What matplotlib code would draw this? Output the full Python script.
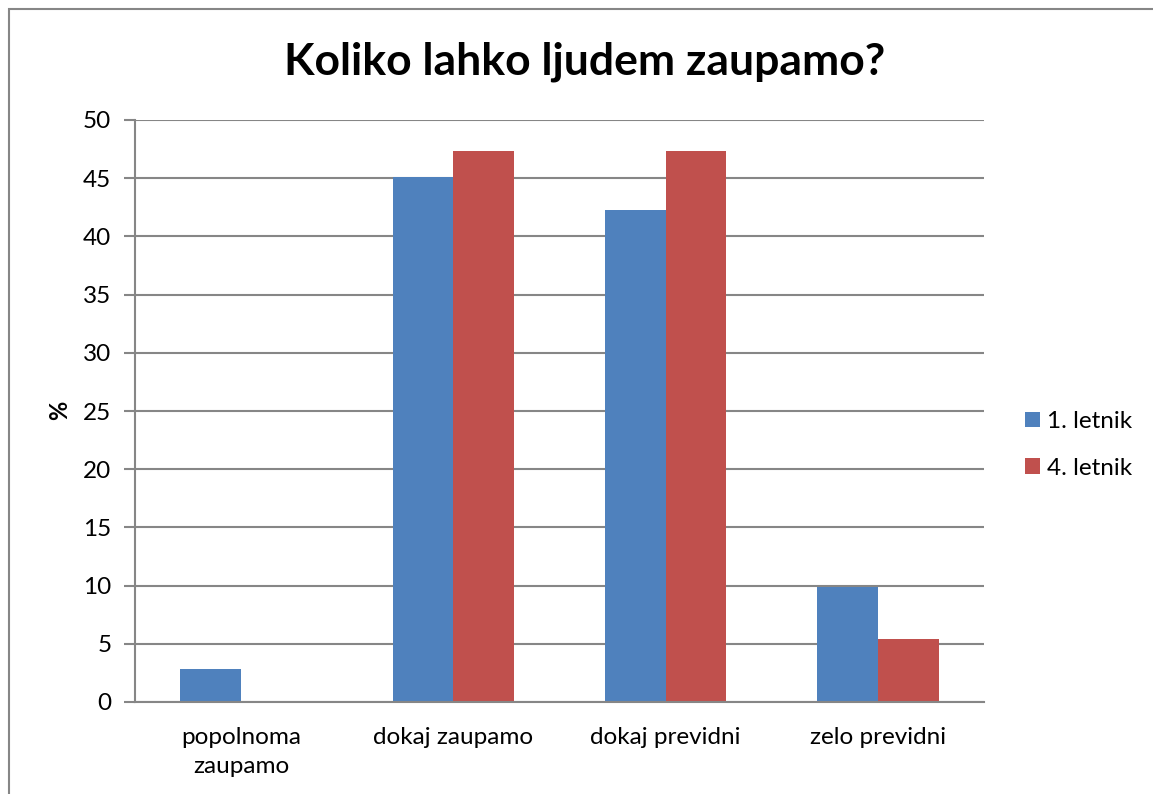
import matplotlib
matplotlib.use("Agg")
import matplotlib.pyplot as plt
from matplotlib.patches import Rectangle
import numpy as np

categories = ["popolnoma\nzaupamo", "dokaj zaupamo", "dokaj previdni", "zelo previdni"]
series_names = ["1. letnik", "4. letnik"]
letnik1 = [2.8, 45.1, 42.3, 9.9]
letnik4 = [0.0, 47.3, 47.3, 5.4]
yticks = [0, 5, 10, 15, 20, 25, 30, 35, 40, 45, 50]
title = "Koliko lahko ljudem zaupamo?"
ylabel = "%"

colors = ["#4F81BD", "#C0504D"]
font = "Lato"
plt.rcParams["font.family"] = [font, "DejaVu Sans"]

W, H = 1153, 794
fig = plt.figure(figsize=(W / 100, H / 100), dpi=100)
ax = fig.add_axes([135 / W, (H - 702) / H, (984 - 135) / W, (702 - 120) / H])

x = np.arange(len(categories))
bw = 1 / 3.5
ax.bar(x - bw / 2, letnik1, bw, color=colors[0], label=series_names[0], zorder=3)
ax.bar(x + bw / 2, letnik4, bw, color=colors[1], label=series_names[1], zorder=3)

ax.set_xlim(-0.5, len(categories) - 0.5)
ax.set_ylim(0, 50)
ax.set_yticks(yticks)
ax.set_yticklabels([str(t) for t in yticks], fontsize=17.5)
ax.set_xticks(x)
ax.set_xticklabels(categories, fontsize=17.5, linespacing=1.45)
ax.tick_params(axis="x", length=0, pad=18)
ax.tick_params(axis="y", length=8, width=1.5, color="#868686", pad=9)
ax.yaxis.grid(True, color="#868686", linewidth=1.5, zorder=0)
for s in ["top", "right"]:
    ax.spines[s].set_visible(False)
for s in ["left", "bottom"]:
    ax.spines[s].set_color("#868686")
    ax.spines[s].set_linewidth(1.5)
ax.spines["bottom"].set_zorder(4)

fig.text(60 / W, 1 - 410 / H, ylabel, fontsize=17, fontweight="bold",
         rotation=90, ha="center", va="center")

fig.text(585 / W, 1 - 62 / H, title, fontsize=32, fontweight="bold",
         ha="center", va="center")

leg = fig.legend(loc="center left", bbox_to_anchor=(1025 / W, 1 - 445 / H),
                 frameon=False, fontsize=17.5, handlelength=0.6, handleheight=0.6,
                 handletextpad=0.3, labelspacing=1.05, borderpad=0, borderaxespad=0)

fig.patches.append(Rectangle((9 / W, -0.1), 1.2, 1 - 9 / H + 0.1,
                             transform=fig.transFigure, fill=False,
                             edgecolor="#868686", linewidth=1.5))

fig.savefig("out.png", dpi=100)
